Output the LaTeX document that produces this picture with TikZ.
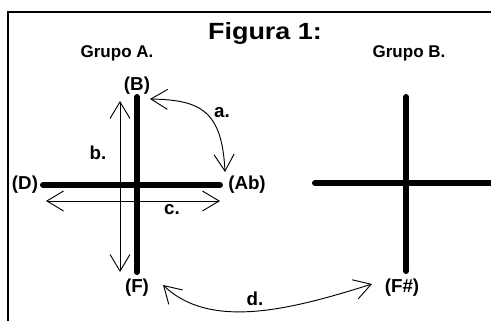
\documentclass[tikz,border=0pt]{standalone}
\usepackage{fontspec}
\usepackage{graphicx}
\setmainfont{Liberation Sans}
\usetikzlibrary{arrows.meta}
\tikzset{
  bar/.style={line width=1.8mm, line cap=round},
  barb/.style={line width=0.8pt,
    {Straight Barb[length=5mm,width=6mm]}-{Straight Barb[length=5mm,width=6mm]}},
  note/.style={font=\fontsize{16}{18}\selectfont\bfseries, inner sep=1pt},
  grp/.style={font=\fontsize{14.5}{17}\selectfont\bfseries, inner sep=1pt}
}
\begin{document}
\begin{tikzpicture}[x=0.3mm, y=-0.3mm]
  \clip (0,0) rectangle (491,321);
  % frame
  \draw[line width=0.6mm] (8,330) -- (8,12.5) -- (500,12.5);

  % titles
  \node[font=\fontsize{20}{24}\selectfont\bfseries] (title) at (265,33)
    {\scalebox{1.15}[1]{Figura 1:}};
  \node[grp] (grpA) at (117,53) {Grupo A.};
  \node[grp] (grpB) at (409,53) {Grupo B.};

  % group A
  \coordinate (At) at (137,97);
  \coordinate (Ab0) at (137,272);
  \coordinate (Al) at (43,185);
  \coordinate (Ar) at (220,185);
  \draw[bar] (At) -- (Ab0);
  \draw[bar] (Al) -- (Ar);
  \node[note] (B) at (137,86) {(B)};
  \node[note] (D) at (25,185) {(D)};
  \node[note] (Ab) at (247,185) {(Ab)};
  \node[note] (F) at (137,288) {(F)};

  % group B
  \coordinate (Bt) at (406,97);
  \coordinate (Bb) at (406,271);
  \coordinate (Bl) at (315,183);
  \coordinate (Br) at (500,183);
  \draw[bar] (Bt) -- (Bb);
  \draw[bar] (Bl) -- (Br);
  \node[note] (Fs) at (402,288) {(F\#)};

  % intervals
  \coordinate (a1) at (150,99);
  \coordinate (a2) at (225,172);
  \draw[barb] (a1) .. controls (200,100) and (222,110) .. (a2);
  \node[note] (la) at (222,113) {a.};

  \coordinate (b1) at (120,101);
  \coordinate (b2) at (120,272);
  \draw[barb] (b1) -- (b2);
  \node[note] (lb) at (98,153) {b.};

  \coordinate (c1) at (46,201);
  \coordinate (c2) at (220,201);
  \draw[barb] (c1) -- (c2);
  \node[note] (lc) at (172,210) {c.};

  \coordinate (d1) at (163,285);
  \coordinate (d2) at (372,284);
  \draw[barb] (d1) .. controls (210,330) and (290,310) .. (d2);
  \node[note] (ld) at (255,299) {d.};
\end{tikzpicture}
\end{document}
